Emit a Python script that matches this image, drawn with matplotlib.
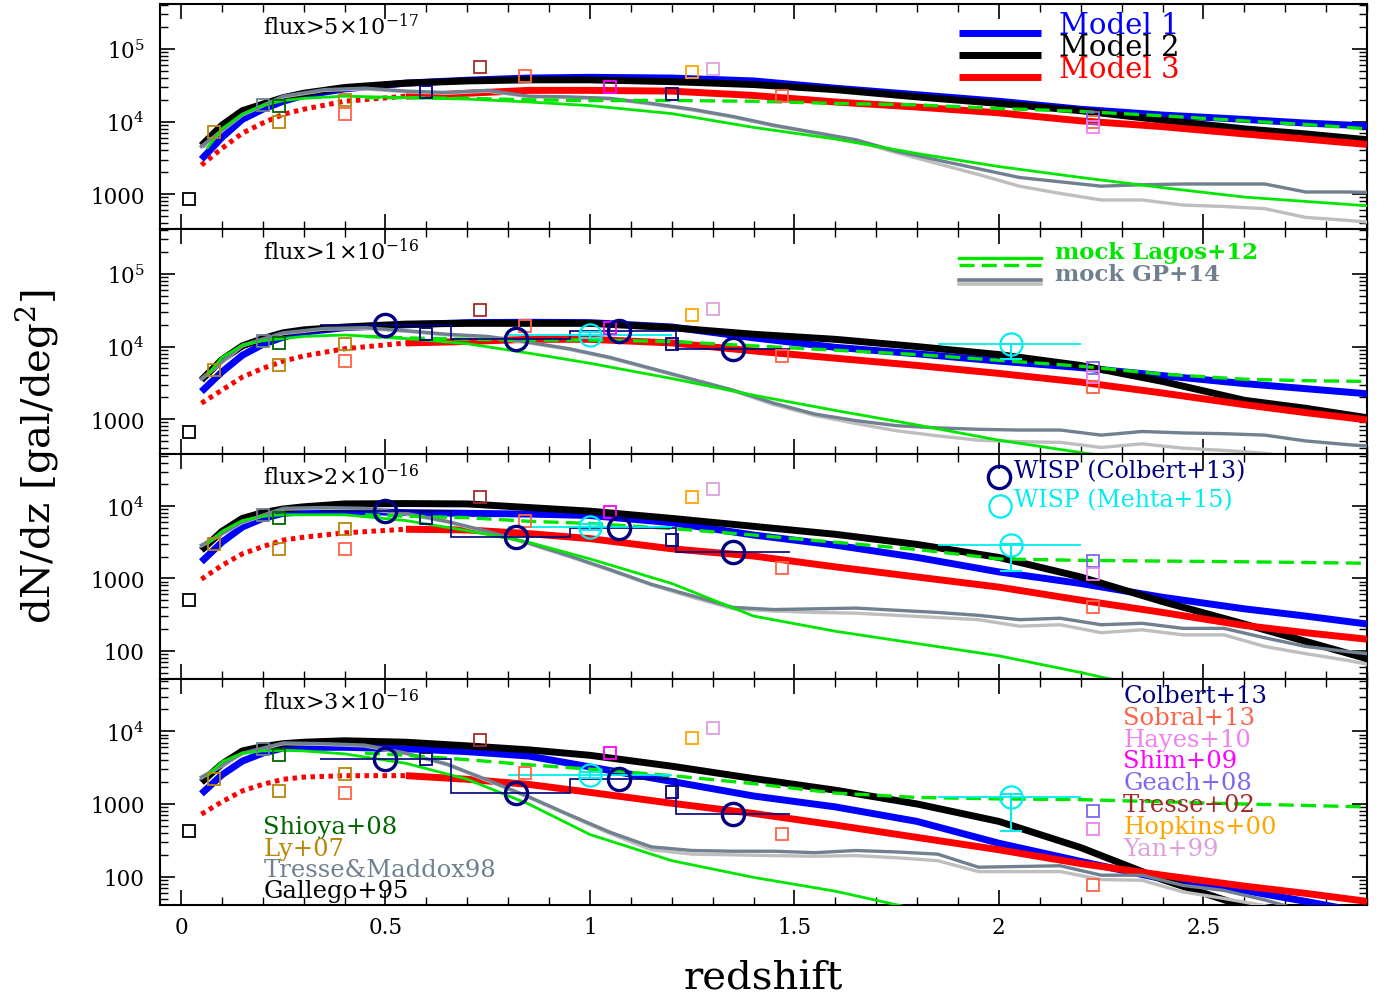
import numpy as np
import matplotlib
matplotlib.use("Agg")
import matplotlib.pyplot as plt
from matplotlib.ticker import LogLocator, MultipleLocator, FuncFormatter, NullFormatter

plt.rcParams['font.family'] = ['DejaVu Serif']
plt.rcParams['mathtext.fontset'] = 'dejavuserif'

# ---------------- data (log10 dN/dz), one list per panel ----------------
panel_labels = [r'flux>5$\times$10$^{-17}$', r'flux>1$\times$10$^{-16}$',
                r'flux>2$\times$10$^{-16}$', r'flux>3$\times$10$^{-16}$']

z_mod = [0.05, 0.10, 0.15, 0.20, 0.25, 0.30, 0.40, 0.55, 0.70, 0.85, 1.00,
         1.20, 1.40, 1.60, 1.80, 2.00, 2.20, 2.40, 2.60, 2.75, 2.90]
model1_log = [
    [3.48, 3.78, 4.03, 4.17, 4.28, 4.36, 4.45, 4.53, 4.57, 4.60, 4.61, 4.60, 4.56, 4.46, 4.37, 4.28, 4.17, 4.09, 4.03, 3.98, 3.94],
    [3.38, 3.65, 3.88, 4.03, 4.13, 4.20, 4.26, 4.30, 4.33, 4.335, 4.33, 4.27, 4.12, 3.99, 3.90, 3.80, 3.71, 3.60, 3.49, 3.42, 3.35],
    [3.23, 3.50, 3.71, 3.83, 3.90, 3.92, 3.93, 3.91, 3.90, 3.89, 3.87, 3.77, 3.60, 3.46, 3.29, 3.09, 2.93, 2.74, 2.58, 2.48, 2.37],
    [3.14, 3.40, 3.59, 3.70, 3.77, 3.78, 3.78, 3.76, 3.72, 3.66, 3.51, 3.31, 3.11, 2.96, 2.76, 2.46, 2.21, 1.97, 1.81, 1.66, 1.50],
]
model2_log = [
    [3.67, 3.95, 4.15, 4.24, 4.33, 4.39, 4.47, 4.53, 4.56, 4.575, 4.575, 4.55, 4.51, 4.44, 4.34, 4.25, 4.15, 4.02, 3.90, 3.83, 3.75],
    [3.54, 3.82, 4.01, 4.11, 4.19, 4.23, 4.27, 4.31, 4.32, 4.32, 4.32, 4.26, 4.17, 4.10, 4.00, 3.89, 3.74, 3.52, 3.26, 3.15, 3.02],
    [3.39, 3.65, 3.83, 3.91, 3.96, 3.99, 4.03, 4.035, 4.03, 3.98, 3.93, 3.83, 3.72, 3.61, 3.47, 3.29, 3.02, 2.68, 2.37, 2.13, 1.89],
    [3.30, 3.55, 3.73, 3.79, 3.83, 3.85, 3.87, 3.85, 3.80, 3.745, 3.67, 3.52, 3.35, 3.19, 3.00, 2.76, 2.40, 1.96, 1.59, 1.35, 1.10],
]
model3_log = [
    [3.40, 3.63, 3.84, 3.98, 4.10, 4.17, 4.28, 4.35, 4.39, 4.43, 4.43, 4.42, 4.36, 4.27, 4.20, 4.12, 4.01, 3.93, 3.83, 3.76, 3.685],
    [3.22, 3.40, 3.58, 3.70, 3.80, 3.87, 3.97, 4.05, 4.07, 4.10, 4.10, 4.05, 3.94, 3.84, 3.74, 3.63, 3.51, 3.36, 3.20, 3.09, 2.99],
    [2.99, 3.18, 3.34, 3.44, 3.53, 3.57, 3.63, 3.68, 3.67, 3.62, 3.55, 3.41, 3.31, 3.16, 3.02, 2.88, 2.70, 2.53, 2.35, 2.25, 2.16],
    [2.86, 3.03, 3.18, 3.27, 3.34, 3.37, 3.39, 3.39, 3.34, 3.27, 3.16, 3.01, 2.87, 2.71, 2.54, 2.37, 2.18, 2.02, 1.87, 1.77, 1.66],
]
model3_dotted_until = 0.55

z_lagos = [0.065, 0.10, 0.15, 0.20, 0.25, 0.30, 0.40, 0.55, 0.70, 0.85, 1.00,
           1.20, 1.40, 1.60, 1.80, 2.00, 2.20, 2.40, 2.60, 2.75, 2.90]
lagos_solid_log = [
    [3.64, 3.90, 4.10, 4.22, 4.29, 4.32, 4.35, 4.33, 4.31, 4.27, 4.22, 4.11, 3.92, 3.76, 3.56, 3.38, 3.23, 3.09, 2.96, 2.90, 2.84],
    [3.61, 3.85, 4.02, 4.08, 4.11, 4.14, 4.16, 4.11, 4.04, 3.91, 3.77, 3.56, 3.33, 3.12, 2.92, 2.71, 2.54, 2.38, 2.22, 2.10, 2.00],
    [3.48, 3.65, 3.80, 3.86, 3.88, 3.88, 3.88, 3.80, 3.66, 3.50, 3.27, 2.93, 2.48, 2.27, 2.10, 1.93, 1.70, 1.45, 1.30, 1.20, 1.10],
    [3.39, 3.58, 3.70, 3.73, 3.74, 3.73, 3.69, 3.56, 3.34, 3.00, 2.58, 2.22, 1.99, 1.80, 1.55, 1.35, 1.20, 1.10, 1.00, 0.90, 0.80],
]
z_lagos_dash = [0.45, 0.55, 0.70, 0.85, 1.00, 1.20, 1.40, 1.60, 1.80, 2.00, 2.20, 2.40, 2.60, 2.75, 2.90]
lagos_dash_log = [
    [4.33, 4.33, 4.32, 4.30, 4.29, 4.29, 4.28, 4.25, 4.23, 4.18, 4.14, 4.08, 4.01, 3.96, 3.90],
    [4.14, 4.12, 4.10, 4.09, 4.09, 4.07, 4.01, 3.95, 3.89, 3.81, 3.73, 3.62, 3.55, 3.53, 3.52],
    [3.88, 3.86, 3.84, 3.79, 3.76, 3.69, 3.60, 3.50, 3.40, 3.27, 3.25, 3.24, 3.23, 3.22, 3.21],
    [3.70, 3.67, 3.61, 3.54, 3.48, 3.39, 3.28, 3.15, 3.09, 3.07, 3.06, 3.03, 3.00, 2.98, 2.96],
]

z_gp = [0.05, 0.15, 0.25, 0.35, 0.45, 0.55, 0.65, 0.75, 0.85, 0.95,
        1.05, 1.15, 1.25, 1.35, 1.45, 1.55, 1.65, 1.75, 1.85, 1.95,
        2.05, 2.15, 2.25, 2.35, 2.45, 2.55, 2.65, 2.75, 2.85, 2.95]
gp_dark_log = [
    [3.66, 4.10, 4.35, 4.44, 4.46, 4.42, 4.40, 4.43, 4.35, 4.34, 4.32, 4.25, 4.17, 4.07, 3.95,
     3.85, 3.75, 3.59, 3.47, 3.35, 3.23, 3.17, 3.11, 3.13, 3.14, 3.14, 3.14, 3.03, 3.03, 3.02],
    [3.56, 4.02, 4.19, 4.25, 4.26, 4.22, 4.17, 4.14, 4.06, 3.97, 3.85, 3.70, 3.55, 3.40, 3.22,
     3.07, 2.98, 2.91, 2.88, 2.86, 2.85, 2.85, 2.78, 2.83, 2.81, 2.80, 2.78, 2.70, 2.65, 2.61],
    [3.46, 3.78, 3.97, 3.98, 3.97, 3.90, 3.79, 3.65, 3.49, 3.31, 3.12, 2.92, 2.76, 2.60, 2.57,
     2.58, 2.59, 2.56, 2.53, 2.49, 2.43, 2.45, 2.36, 2.38, 2.31, 2.31, 2.18, 2.06, 1.99, 1.93],
    [3.37, 3.70, 3.84, 3.83, 3.81, 3.70, 3.55, 3.33, 3.10, 2.85, 2.61, 2.41, 2.36, 2.35, 2.35,
     2.33, 2.36, 2.34, 2.31, 2.13, 2.14, 2.15, 2.02, 2.02, 1.88, 1.81, 1.68, 1.52, 1.40, 1.30],
]
gp_light_log = [
    [3.65, 4.09, 4.34, 4.43, 4.45, 4.41, 4.39, 4.42, 4.34, 4.33, 4.31, 4.24, 4.16, 4.06, 3.94,
     3.84, 3.73, 3.57, 3.42, 3.27, 3.11, 3.01, 2.92, 2.92, 2.85, 2.83, 2.80, 2.68, 2.64, 2.59],
    [3.55, 4.01, 4.18, 4.24, 4.25, 4.21, 4.16, 4.13, 4.05, 3.96, 3.84, 3.69, 3.54, 3.39, 3.20,
     3.05, 2.94, 2.84, 2.77, 2.71, 2.69, 2.68, 2.61, 2.66, 2.60, 2.57, 2.53, 2.45, 2.40, 2.35],
    [3.45, 3.77, 3.96, 3.97, 3.96, 3.89, 3.78, 3.64, 3.48, 3.30, 3.11, 2.91, 2.74, 2.58, 2.55,
     2.53, 2.52, 2.49, 2.46, 2.43, 2.34, 2.36, 2.25, 2.29, 2.22, 2.22, 2.06, 1.96, 1.87, 1.76],
    [3.36, 3.69, 3.83, 3.82, 3.80, 3.69, 3.54, 3.32, 3.09, 2.84, 2.59, 2.37, 2.31, 2.30, 2.29,
     2.28, 2.29, 2.26, 2.22, 2.07, 2.07, 2.07, 1.96, 1.95, 1.79, 1.70, 1.60, 1.48, 1.38, 1.30],
]

# observational compilations (square symbols)
gallego_z = [0.02]
gallego_log = [[2.93], [2.82], [2.70], [2.63]]
ly_z = [0.08, 0.24, 0.40]
ly_log = [[3.86, 4.00, 4.30], [3.68, 3.74, 4.04], [3.47, 3.40, 3.68], [3.34, 3.18, 3.41]]
shioya_z = [0.24]
shioya_log = [[4.22], [4.05], [3.83], [3.68]]
tm98_z = [0.20]
tm98_log = [[4.23], [4.07], [3.88], [3.76]]
sobral_z = [0.40, 0.84, 1.47, 2.23]
sobral_log = [[4.11, 4.63, 4.35, 4.00], [3.80, 4.28, 3.87, 3.45],
              [3.40, 3.80, 3.15, 2.60], [3.15, 3.42, 2.59, 1.89]]
tresse02_z = [0.73]
tresse02_log = [[4.75], [4.50], [4.13], [3.88]]
colbert_sq_z = [0.60, 1.20]
colbert_sq_log = [[4.41, 4.38], [4.18, 4.04], [3.84, 3.53], [3.62, 3.17]]
shim_z = [1.05]
shim_log = [[4.47], [4.26], [3.92], [3.70]]
hopkins_z = [1.25]
hopkins_log = [[4.68], [4.43], [4.12], [3.91]]
yan_z = [1.30]
yan_log = [[4.72], [4.52], [4.24], [4.05]]
geach_z = [2.23]
geach_log = [[4.05], [3.71], [3.24], [2.91]]
hayes_z = [2.23]
hayes_log = [[3.93], [3.58], [3.06], [2.66]]

# WISP (Colbert+13): circles + binned steps (panels 2-4)
wisp_c_z = [0.50, 0.82, 1.07, 1.35]
wisp_c_edges = [0.34, 0.66, 0.95, 1.21, 1.49]
wisp_c_log = [None, [4.30, 4.11, 4.21, 3.96], [3.93, 3.57, 3.70, 3.36], [3.62, 3.15, 3.35, 2.86]]
# WISP (Mehta+15) (panels 2-4)
wisp_m_z = [1.00, 2.03]
wisp_m_xlo = [0.20, 0.18]
wisp_m_xhi = [0.20, 0.17]
wisp_m_log = [None, [4.16, 4.04], [3.71, 3.46], [3.40, 3.09]]
wisp_m_dlo = [None, [0.04, 0.21], [0.04, 0.355], [0.04, 0.46]]
wisp_m_dhi = [None, [0.04, 0.00], [0.04, 0.02], [0.04, 0.05]]

# ---------------- styling ----------------
C_M1, C_M2, C_M3 = '#0000FF', '#000000', '#FF0000'
C_LAG = '#00E600'
C_GPD, C_GPL = '#708090', '#BEBEBE'
NAVY, CYAN = '#000080', '#00EEEE'

squares = [
    (gallego_z, gallego_log, '#000000'),
    (ly_z, ly_log, '#B8860B'),
    (shioya_z, shioya_log, '#006400'),
    (tm98_z, tm98_log, '#708090'),
    (sobral_z, sobral_log, '#FF6347'),
    (tresse02_z, tresse02_log, '#A52A2A'),
    (colbert_sq_z, colbert_sq_log, NAVY),
    (shim_z, shim_log, '#FF00FF'),
    (hopkins_z, hopkins_log, '#FFA500'),
    (yan_z, yan_log, '#DDA0DD'),
    (geach_z, geach_log, '#7B68EE'),
    (hayes_z, hayes_log, '#EE82EE'),
]

ylog_lims = [(2.52, 5.62), (2.52, 5.62), (1.61, 4.72), (1.61, 4.72)]

W, H = 1391, 1003
fig = plt.figure(figsize=(W / 100, H / 100), dpi=100)
ax_left, ax_right = 160 / W, 1367 / W
panel_px = [(5, 230), (230, 455), (455, 680), (680, 906)]
axes = []
for (t, b) in panel_px:
    axes.append(fig.add_axes([ax_left, 1 - b / H, ax_right - ax_left, (b - t) / H]))


def yfmt(v, pos):
    e = int(round(np.log10(v)))
    if e >= 4:
        return r'$10^{%d}$' % e
    return '%d' % int(round(v))


def P(v):
    return 10 ** np.asarray(v, dtype=float)


for i, ax in enumerate(axes):
    ax.set_yscale('log')
    ax.set_xlim(-0.0513, 2.9)
    ax.set_ylim(10 ** ylog_lims[i][0], 10 ** ylog_lims[i][1])

    zm = np.asarray(z_mod)
    ax.plot(zm, P(model1_log[i]), color=C_M1, lw=5, zorder=3.0, solid_capstyle='butt')
    ax.plot(zm, P(model2_log[i]), color=C_M2, lw=5, zorder=3.1, solid_capstyle='butt')
    m3 = P(model3_log[i])
    dot = zm <= model3_dotted_until
    sol = zm >= model3_dotted_until
    ax.plot(zm[dot], m3[dot], color=C_M3, lw=3.6, ls=(0, (0.9, 0.9)), zorder=3.2,
            dash_capstyle='butt')
    ax.plot(zm[sol], m3[sol], color=C_M3, lw=5, zorder=3.2, solid_capstyle='butt')

    ax.plot(z_gp, P(gp_light_log[i]), color=C_GPL, lw=2.4, zorder=3.4)
    ax.plot(z_gp, P(gp_dark_log[i]), color=C_GPD, lw=2.4, zorder=3.5)
    ax.plot(z_lagos, P(lagos_solid_log[i]), color=C_LAG, lw=2.0, zorder=3.6)
    ax.plot(z_lagos_dash, P(lagos_dash_log[i]), color=C_LAG, lw=2.4,
            ls=(0, (4.5, 2.2)), zorder=3.7)

    for (zz, ll, col) in squares:
        ax.plot(zz, P(ll[i]), ls='none', marker='s', ms=9, mfc='none', mec=col,
                mew=1.3, zorder=5)

    if wisp_c_log[i] is not None:
        ax.stairs(P(wisp_c_log[i]), wisp_c_edges, baseline=None, color=NAVY, lw=1.2, zorder=4)
        ax.plot(wisp_c_z, P(wisp_c_log[i]), ls='none', marker='o', ms=16, mfc='none',
                mec=NAVY, mew=2.4, zorder=6)
    if wisp_m_log[i] is not None:
        mv = P(wisp_m_log[i])
        lo = mv - P(np.asarray(wisp_m_log[i]) - np.asarray(wisp_m_dlo[i]))
        hi = P(np.asarray(wisp_m_log[i]) + np.asarray(wisp_m_dhi[i])) - mv
        ax.errorbar(wisp_m_z, mv, xerr=[wisp_m_xlo, wisp_m_xhi], fmt='none',
                    ecolor=CYAN, elinewidth=1.3, capsize=0, zorder=4.5)
        ax.errorbar(wisp_m_z, mv, yerr=[lo, hi], fmt='none', ecolor=CYAN,
                    elinewidth=1.5, capsize=8, capthick=1.5, zorder=4.5)
        ax.plot(wisp_m_z, mv, ls='none', marker='o', ms=16, mfc='none', mec=CYAN,
                mew=1.6, zorder=6)

    ax.text(0.0856, 0.867, panel_labels[i], transform=ax.transAxes, fontsize=16,
            va='baseline', ha='left', zorder=10)

    # ticks
    ax.xaxis.set_major_locator(MultipleLocator(0.5))
    ax.xaxis.set_minor_locator(MultipleLocator(0.1))
    ax.xaxis.set_major_formatter(FuncFormatter(lambda v, p: '%g' % v))
    ax.yaxis.set_major_locator(LogLocator(base=10, numticks=12))
    ax.yaxis.set_minor_locator(LogLocator(base=10, subs=np.arange(2, 10), numticks=12))
    ax.yaxis.set_major_formatter(FuncFormatter(yfmt))
    ax.yaxis.set_minor_formatter(NullFormatter())
    ax.tick_params(which='both', direction='in', top=True, right=True, labelsize=15.5)
    ax.tick_params(which='major', length=11, width=1.2)
    ax.tick_params(which='minor', length=5.5, width=1.0)
    ax.tick_params(axis='y', which='major', pad=11)
    ax.tick_params(axis='x', which='major', pad=8)
    if i < 3:
        ax.tick_params(axis='x', labelbottom=False)
    for s in ax.spines.values():
        s.set_linewidth(1.5)

# ---------------- legends ----------------
ax = axes[0]
for c, lab, y in zip([C_M1, C_M2, C_M3], ['Model 1', 'Model 2', 'Model 3'], [0.870, 0.773, 0.677]):
    ax.plot([0.662, 0.7295], [y, y], color=c, lw=5, transform=ax.transAxes,
            solid_capstyle='butt', zorder=10)
    ax.text(0.7446, y, lab, color=c, fontsize=21, transform=ax.transAxes,
            va='baseline', ha='left', zorder=10)

ax = axes[1]
ax.plot([0.662, 0.7295], [0.870, 0.870], color=C_LAG, lw=2.4, transform=ax.transAxes, zorder=10)
ax.plot([0.662, 0.7295], [0.840, 0.840], color=C_LAG, lw=2.4, ls=(0, (4.5, 2.2)),
        transform=ax.transAxes, zorder=10)
ax.plot([0.662, 0.7295], [0.775, 0.775], color=C_GPD, lw=2.6, transform=ax.transAxes, zorder=10)
ax.plot([0.662, 0.7295], [0.756, 0.756], color=C_GPL, lw=2.6, transform=ax.transAxes, zorder=10)
ax.text(0.7415, 0.870, 'mock Lagos+12', color=C_LAG, fontsize=16.5, fontweight='bold',
        transform=ax.transAxes, va='baseline', zorder=10)
ax.text(0.7415, 0.775, 'mock GP+14', color=C_GPD, fontsize=16.5, fontweight='bold',
        transform=ax.transAxes, va='baseline', zorder=10)

ax = axes[2]
ax.plot([0.695], [0.898], ls='none', marker='o', ms=16, mfc='none', mec=NAVY, mew=2.4,
        transform=ax.transAxes, zorder=10)
ax.plot([0.696], [0.769], ls='none', marker='o', ms=16, mfc='none', mec=CYAN, mew=1.6,
        transform=ax.transAxes, zorder=10)
ax.text(0.7075, 0.898, 'WISP (Colbert+13)', color=NAVY, fontsize=17,
        transform=ax.transAxes, va='baseline', zorder=10)
ax.text(0.7075, 0.769, 'WISP (Mehta+15)', color=CYAN, fontsize=17,
        transform=ax.transAxes, va='baseline', zorder=10)

ax = axes[3]
right_names = ['Colbert+13', 'Sobral+13', 'Hayes+10', 'Shim+09', 'Geach+08',
               'Tresse+02', 'Hopkins+00', 'Yan+99']
right_cols = [NAVY, '#FF6347', '#EE82EE', '#FF00FF', '#7B68EE', '#A52A2A', '#FFA500', '#DDA0DD']
right_y = [0.897, 0.801, 0.705, 0.609, 0.513, 0.417, 0.319, 0.223]
for n, c, y in zip(right_names, right_cols, right_y):
    ax.text(0.798, y, n, color=c, fontsize=17.5, transform=ax.transAxes,
            va='baseline', zorder=10)
left_names = ['Shioya+08', 'Ly+07', 'Tresse&Maddox98', 'Gallego+95']
left_cols = ['#006400', '#B8860B', '#708090', '#000000']
left_y = [0.319, 0.223, 0.130, 0.034]
for n, c, y in zip(left_names, left_cols, left_y):
    ax.text(0.0856, y, n, color=c, fontsize=17.5, transform=ax.transAxes,
            va='baseline', zorder=10)

fig.text((ax_left + ax_right) / 2, 0.024, 'redshift', fontsize=29, ha='center', va='center')
fig.text(0.026, 0.545, r'dN/dz [gal/deg$^2$]', fontsize=29, rotation=90,
         ha='center', va='center')

fig.savefig('out.png', dpi=100)
